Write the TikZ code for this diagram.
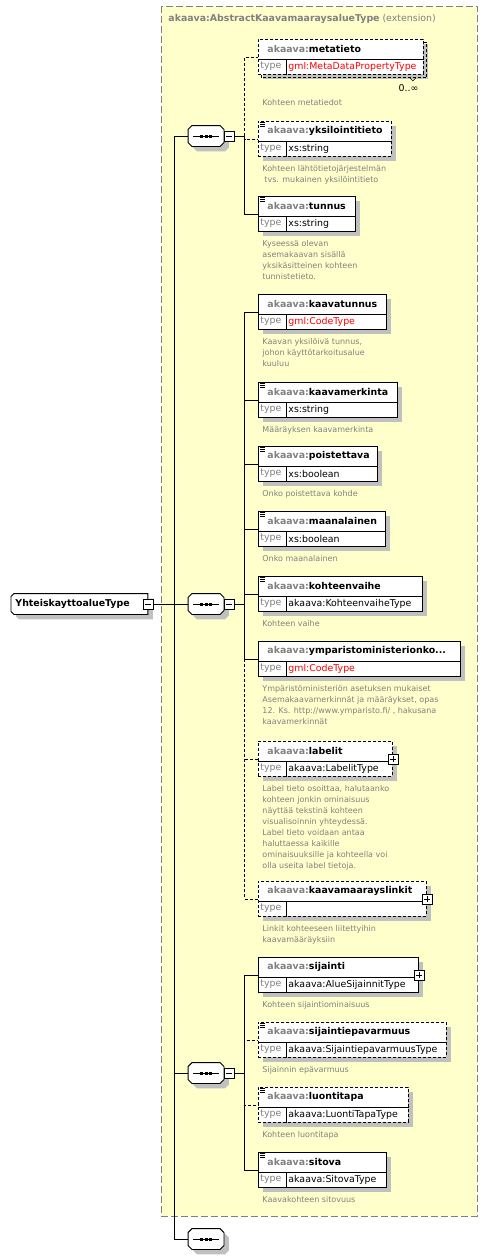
\documentclass[tikz,border=0pt]{standalone}
\usepackage{fontspec}
\setmainfont{DejaVu Sans}
\usepackage{xcolor}
\usetikzlibrary{positioning,shadows}

\definecolor{extyellow}{HTML}{FFFFCC}
\definecolor{pfxgray}{HTML}{808080}
\definecolor{shadegray}{HTML}{C0C0C0}

\newcommand{\pfx}{\textcolor{pfxgray}{akaava:}}

% element box: [doc gap] node, top, width, label, type, border, documentation
\newcommand{\elem}[8][8pt]{
  \node[elem,#7,minimum width=#4] (#2) at (258,#3) {};
  \draw ([yshift=-20pt]#2.north west) -- ([yshift=-20pt]#2.north east);
  \draw ([shift={(28pt,-20pt)}]#2.north west) -- ([xshift=28pt]#2.south west);
  \node[ename] (#2-name) at ([shift={(9pt,-10pt)}]#2.north west) {\pfx#5};
  \node[tname,text=pfxgray] (#2-tlbl) at ([shift={(2pt,-27.5pt)}]#2.north west) {type};
  \node[tname] (#2-type) at ([shift={(30pt,-27.5pt)}]#2.north west) {#6};
  \node[doc] (#2-doc) at ([shift={(4pt,-#1)}]#2.south west) {#8};
}

% little documentation mark in the corner
\newcommand{\docicon}[1]{
  \foreach \k in {1.5,3.2,4.9}
    \draw[line width=0.7pt] ([shift={(2pt,-\k pt)}]#1.north west) -- ++(5,0);
}

% sequence compositor
\newcommand{\seqsym}[3]{
  \node[seq] (#1) at (#2,#3) {};
  \draw[fill=white,boxshadow] ([xshift=4pt]#1.north west) -- ([xshift=-4pt]#1.north east)
    -- ([yshift=-4pt]#1.north east) -- ([yshift=4pt]#1.south east)
    -- ([xshift=-4pt]#1.south east) -- ([xshift=4pt]#1.south west)
    -- ([yshift=4pt]#1.south west) -- ([yshift=-4pt]#1.north west) -- cycle;
  \draw (#1.center) +(-13,0) -- +(13,0);
  \foreach \d in {-4.4,0,4.4}
    \fill (#1.center) ++(\d,0) +(-1.5,-1.5) rectangle +(1.5,1.5);
}

\begin{document}
\begin{tikzpicture}[x=1pt,y=-1pt,line width=0.9pt,
    boxshadow/.style={drop shadow={shadow xshift=5pt,shadow yshift=-5pt,fill=shadegray,opacity=1}},
    elem/.style={draw,fill=white,anchor=north west,minimum height=35pt,inner sep=0,boxshadow},
    opt/.style={dash pattern=on 3pt off 2pt},
    ename/.style={anchor=west,inner sep=0,font=\fontsize{9.4}{11}\selectfont\bfseries},
    tname/.style={anchor=west,inner sep=0,font=\fontsize{9.4}{11}\selectfont},
    doc/.style={anchor=north west,inner sep=0,align=left,text=pfxgray,font=\fontsize{8}{11}\selectfont},
    seq/.style={minimum width=35pt,minimum height=20pt,inner sep=0},
    rootbox/.style={anchor=west,minimum width=136pt,minimum height=20pt,inner sep=0},
    minbox/.style={draw,fill=white,minimum size=10pt,inner sep=0,line width=0.8pt,
      path picture={\draw ([xshift=2pt]path picture bounding box.west) -- ([xshift=-2pt]path picture bounding box.east);}},
    plusbox/.style={draw,fill=white,minimum size=10pt,inner sep=0,line width=0.8pt,
      path picture={\draw ([xshift=2pt]path picture bounding box.west) -- ([xshift=-2pt]path picture bounding box.east);
        \draw ([yshift=-2pt]path picture bounding box.north) -- ([yshift=2pt]path picture bounding box.south);}}]
  \useasboundingbox (0,0) rectangle (490,1259);

  % extension area
  \draw[fill=extyellow,draw=pfxgray,dash pattern=on 7pt off 3pt] (161,6) rectangle (477,1216);
  \node[tname,text=pfxgray] (title) at (168,19) {\textbf{akaava:AbstractKaavamaaraysalueType} (extension)};

  % root type
  \node[rootbox] (root) at (11,604) {};
  \draw[fill=white,boxshadow] ([xshift=3pt]root.north west) -- (root.north east) -- (root.south east)
    -- ([xshift=3pt]root.south west) -- ([yshift=3pt]root.south west) -- ([yshift=-3pt]root.north west) -- cycle;
  \node[ename] (root-lbl) at ([xshift=4pt]root.west) {YhteiskayttoalueType};
  \node[minbox] (root-min) at (root.east) {};

  % compositors
  \seqsym{seqA}{206}{136}
  \seqsym{seqB}{206}{604}
  \seqsym{seqC}{206}{1073}
  \seqsym{seqD}{206}{1239}
  \node[minbox,right=0pt of seqA] (seqA-min) {};
  \node[minbox,right=0pt of seqB] (seqB-min) {};
  \node[minbox,right=0pt of seqC] (seqC-min) {};
  \coordinate[right=10pt of seqA-min] (busA);
  \coordinate[right=10pt of seqB-min] (busB);
  \coordinate[right=10pt of seqC-min] (busC);
  \coordinate[left=14pt of seqB] (trunk);

  % elements
  \elem[24pt]{metatieto}{39}{165}{metatieto}{\textcolor{red}{gml:MetaDataPropertyType}}{opt}{Kohteen metatiedot}
  \elem{yksilointitieto}{121}{133}{yksilointitieto}{xs:string}{opt}{Kohteen lähtötietojärjestelmän\\\hspace*{2pt}tvs. mukainen yksilöintitieto}
  \elem{tunnus}{196}{97}{tunnus}{xs:string}{}{Kyseessä olevan\\asemakaavan sisällä\\yksikäsitteinen kohteen\\tunnistetieto.}
  \elem{kaavatunnus}{294}{128}{kaavatunnus}{\textcolor{red}{gml:CodeType}}{}{Kaavan yksilöivä tunnus,\\johon käyttötarkoitusalue\\kuuluu}
  \elem{kaavamerkinta}{382}{139}{kaavamerkinta}{xs:string}{}{Määräyksen kaavamerkinta}
  \elem{poistettava}{446}{119}{poistettava}{xs:boolean}{}{Onko poistettava kohde}
  \elem{maanalainen}{511}{127}{maanalainen}{xs:boolean}{}{Onko maanalainen}
  \elem{kohteenvaihe}{576}{164}{kohteenvaihe}{akaava:KohteenvaiheType}{}{Kohteen vaihe}
  \elem{ymparisto}{641}{202}{ymparistoministerionko...}{\textcolor{red}{gml:CodeType}}{}{Ympäristöministeriön asetuksen mukaiset\\Asemakaavamerkinnät ja määräykset, opas\\12. Ks. http://www.ymparisto.fi/ , hakusana\\kaavamerkinnät}
  \elem{labelit}{741}{134}{labelit}{akaava:LabelitType}{opt}{Label tieto osoittaa, halutaanko\\kohteen jonkin ominaisuus\\näyttää tekstinä kohteen\\visualisoinnin yhteydessä.\\Label tieto voidaan antaa\\haluttaessa kaikille\\ominaisuuksille ja kohteella voi\\olla useita label tietoja.}
  \elem{kaavamaarayslinkit}{881}{168}{kaavamaarayslinkit}{}{opt}{Linkit kohteeseen liitettyihin\\kaavamääräyksiin}
  \elem{sijainti}{957}{160}{sijainti}{akaava:AlueSijainnitType}{}{Kohteen sijaintiominaisuus}
  \elem{sijaintiepavarmuus}{1022}{188}{sijaintiepavarmuus}{akaava:SijaintiepavarmuusType}{opt}{Sijainnin epävarmuus}
  \elem{luontitapa}{1087}{150}{luontitapa}{akaava:LuontiTapaType}{opt}{Kohteen luontitapa}
  \elem{sitova}{1152}{128}{sitova}{akaava:SitovaType}{}{Kaavakohteen sitovuus}

  \foreach \e in {yksilointitieto,tunnus,kaavamerkinta,poistettava,maanalainen,kohteenvaihe,sijaintiepavarmuus,luontitapa,sitova}
    \docicon{\e}
  \foreach \e in {labelit,kaavamaarayslinkit,sijainti}
    \node[plusbox] (\e-plus) at (\e.east) {};

  % metatieto occurs many times: box behind and count
  \draw[opt] ([yshift=-3pt]metatieto.north east) -- ++(3,0) -- ([shift={(3pt,-3pt)}]metatieto.south east)
    -- ([shift={(3pt,-3pt)}]metatieto.south west) -- ++(0,-3);
  \draw[line width=0.6pt] ([shift={(-14pt,-3pt)}]metatieto.south east) -- ++(3,3) -- ++(3,-3);
  \node[tname,anchor=east] (metatieto-occ) at ([shift={(-5pt,-13pt)}]metatieto.south east) {0..∞};

  % connectors
  \draw (root-min.east) -- (seqB.west);
  \draw (seqA.west) -| (trunk) |- (seqD.west);
  \draw (seqC.west) -| (trunk);

  \draw (seqA-min.east) -- (busA);
  \foreach \e in {metatieto,yksilointitieto}
    \draw[opt] (busA) |- (\e.west);
  \draw (busA) |- (tunnus.west);

  \draw (seqB-min.east) -- (busB);
  \foreach \e in {labelit,kaavamaarayslinkit}
    \draw[opt] (busB) |- (\e.west);
  \foreach \e in {kaavatunnus,kaavamerkinta,poistettava,maanalainen,kohteenvaihe,ymparisto}
    \draw (busB) |- (\e.west);

  \draw (seqC-min.east) -- (busC);
  \foreach \e in {sijaintiepavarmuus,luontitapa}
    \draw[opt] (busC) |- (\e.west);
  \foreach \e in {sijainti,sitova}
    \draw (busC) |- (\e.west);
\end{tikzpicture}
\end{document}
